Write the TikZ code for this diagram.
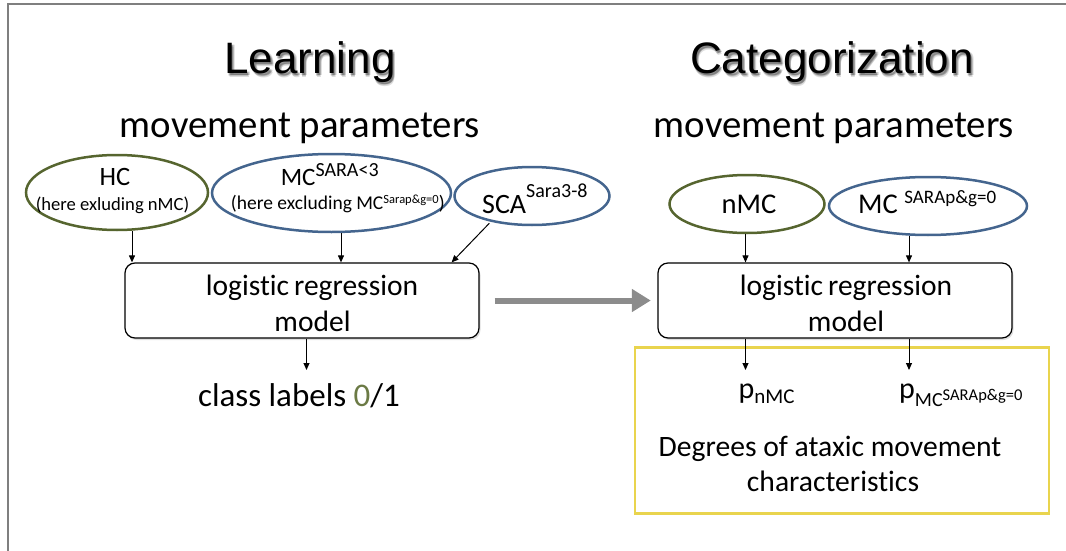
\documentclass[tikz,border=0pt]{standalone}
\usepackage{fontspec}
\setmainfont[Ligatures=NoCommon]{Carlito}
\newfontfamily\headfont{Liberation Sans}
\usetikzlibrary{shapes.geometric,arrows.meta,shadows}
\definecolor{olivedark}{HTML}{56652F}
\definecolor{olivetext}{HTML}{6B7A45}
\definecolor{slateblue}{HTML}{44658E}
\definecolor{goldline}{HTML}{E9D44E}
\definecolor{framegray}{HTML}{7F7F7F}
\definecolor{flowgray}{HTML}{8C8C8C}
\newcommand\fsz[1]{\fontsize{#1}{#1}\selectfont}
% raised / lowered small text: shift, size, text
\newcommand\upscript[3]{\raisebox{#1pt}{\fsz{#2}#3}}
\newcommand\downscript[3]{\raisebox{-#1pt}{\fsz{#2}#3}}
\begin{document}
\begin{tikzpicture}[x=1pt,y=-1pt,
  txt/.style={anchor=base,inner sep=0pt},
  txtw/.style={anchor=base west,inner sep=0pt},
  ell/.style={ellipse,draw,line width=2.5pt,inner sep=0pt},
  olivering/.style={ell,draw=olivedark},
  bluering/.style={ell,draw=slateblue},
  modelbox/.style={rectangle,rounded corners=10pt,draw=black,line width=1.2pt,
    fill=white,inner sep=0pt,minimum width=354pt,minimum height=75pt,
    drop shadow={shadow xshift=1.5pt,shadow yshift=-2pt,opacity=.25}},
  arr/.style={line width=1pt,-{Triangle[length=7pt,width=6pt]}},
  flow/.style={draw=flowgray,line width=6pt,-{Triangle[length=19pt,width=22pt]}},
  headline/.style={txt,font=\headfont\fsz{44}},
  headshade/.style={headline,text=black,opacity=.13}]
\useasboundingbox (0,0) rectangle (1066,551);

% frame
\draw[framegray,line width=2pt] (8,551) -- (8,4) -- (1066,4);

% headings with a soft shadow
\foreach \dx/\dy [count=\k] in {1/1,2/2,1.5/2.8,2.8/1.5,2.2/3.2} {
  \node[headshade] (learnshade\k) at (310+\dx,74+\dy) {Learning};
  \node[headshade] (catshade\k) at (832+\dx,74+\dy) {Categorization};
}
\node[headline] (learn) at (310,74) {Learning};
\node[headline] (categ) at (832,74) {Categorization};

\node[txt,font=\fsz{38.8}] (mpleft) at (300,137) {movement parameters};
\node[txt,font=\fsz{38.8}] (mpright) at (834,137) {movement parameters};

% parameter groups
\node[olivering,minimum width=182pt,minimum height=75pt] (hc) at (117,192.5) {};
\node[bluering,minimum width=239pt,minimum height=78pt] (mc) at (331.5,193) {};
\node[bluering,minimum width=155pt,minimum height=58pt] (sca) at (532,196) {};
\node[olivering,minimum width=155pt,minimum height=58pt] (nmc) at (747,204) {};
\node[bluering,minimum width=198pt,minimum height=58pt] (mcp) at (928,206) {};

\node[txt] (hcname) at (115,185) {\fsz{26.5}HC};
\node[txt] (hcnote) at (112.5,210) {\fsz{18.6}(here exluding nMC)};
\node[txtw] (mcname) at (280.6,185) {\fsz{25}MC\upscript{8.5}{20}{SARA<3}};
\node[txtw] (mcnote) at (230.7,209) {\fsz{19.5}(here excluding MC\upscript{6}{12.5}{Sarap\&g=0})};
\node[txtw] (scaname) at (482,213) {\fsz{28}SCA\upscript{16}{20}{Sara3-8}};
\node[txtw] (nmcname) at (721.5,213) {\fsz{28.6}nMC};
\node[txtw] (mcpname) at (858,213) {\fsz{28.6}MC \upscript{10}{19}{SARAp\&g=0}};

% regression models
\node[modelbox] (lbox) at (302,300.5) {};
\node[modelbox] (rbox) at (835,300.5) {};
\node[txt,font=\fsz{29.5}] (lline1) at (312,295) {logistic\,regression};
\node[txt,font=\fsz{29.5}] (lline2) at (312.5,331.7) {model};
\node[txt,font=\fsz{29.5}] (rline1) at (846,295) {logistic\,regression};
\node[txt,font=\fsz{29.5}] (rline2) at (846,331.7) {model};

% outputs
\node[txt] (classlbl) at (299,406.7) {\fsz{33}class labels {\color{olivetext}0}/1};
\node[draw=goldline,line width=2.6pt,minimum width=414pt,minimum height=166pt,inner sep=0pt]
  (outbox) at (842,430.3) {};
\node[txtw] (pnmc) at (738.5,398) {\fsz{30}p\downscript{5}{21}{nMC}};
\node[txtw] (pmcp) at (899,398) {\fsz{30}p\raisebox{-8.7pt}{\fsz{20}MC\raisebox{6.7pt}{\fsz{16.5}SARAp\&g=0}}};
\node[txt,font=\fsz{29.6}] (deg1) at (830,456.7) {Degrees of ataxic movement};
\node[txt,font=\fsz{29.6}] (deg2) at (833,491.7) {characteristics};

% arrow end points above the outputs
\coordinate (lout) at (306.5,370);
\coordinate (rout1) at (745.5,370);
\coordinate (rout2) at (909,370);

% connectors
\draw[arr] ([xshift=15pt]hc.south) -- ([xshift=15pt]hc.south |- lbox.north);
\draw[arr] ([xshift=9.5pt]mc.south) -- ([xshift=9.5pt]mc.south |- lbox.north);
\draw[arr,shorten <=2pt] (sca.212) -- ([xshift=-28pt]lbox.north east);
\draw[arr] ([xshift=-1.5pt]nmc.south) -- ([xshift=-1.5pt]nmc.south |- rbox.north);
\draw[arr] ([xshift=-19pt]mcp.south) -- ([xshift=-19pt]mcp.south |- rbox.north);
\draw[arr] (lbox.south -| lout) -- (lout);
\draw[arr] (rbox.south -| rout1) -- (rout1);
\draw[arr] (rbox.south -| rout2) -- (rout2);
\draw[flow] ([xshift=15pt]lbox.east) -- ([xshift=-6.6pt]rbox.west);
\end{tikzpicture}
\end{document}
